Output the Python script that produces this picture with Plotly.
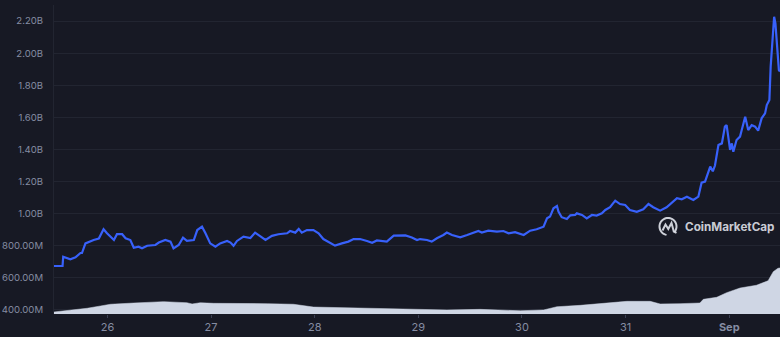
import numpy as np
import pandas as pd
import plotly.graph_objects as go

# ---- data (hours after 2023-08-25 00:00) ----
mcap_hours = [11.5, 13.6, 13.75, 14.3, 15.4, 16.6, 17.75, 18.1, 18.5, 18.9, 20.8, 22.0, 23.1, 23.9,
              25.5, 26.2, 27.4, 28.2, 29.3, 30.1, 31.2, 32.0, 33.2, 35.1, 35.9, 37.4, 38.6, 39.3,
              40.5, 41.5, 42.4, 44.0, 44.8, 45.9, 46.7, 47.8, 49.0, 50.1, 51.7, 52.5, 53.2, 54.0,
              55.5, 57.1, 58.2, 59.4, 60.6, 62.1, 63.6, 65.6, 66.3, 67.5, 68.3, 69.0, 70.2, 71.7,
              72.9, 74.0, 75.2, 76.7, 78.3, 79.8, 81.0, 82.5, 84.1, 85.3, 86.4, 88.7, 90.3, 91.8,
              93.0, 94.5, 95.7, 96.4, 98.0, 99.1, 100.3, 101.8, 102.6, 103.8, 105.7, 107.3, 108.8,
              109.9, 110.7, 112.2, 114.2, 115.7, 116.9, 118.4, 120.4, 121.9, 123.4, 125.0, 125.8,
              126.5, 127.3, 128.1, 128.45, 129.2, 130.4, 131.2, 132.3, 132.7, 133.9, 135.0, 136.2,
              137.3, 138.5, 139.3, 140.4, 141.6, 142.7, 143.9, 145.0, 146.6, 148.1, 149.3, 150.4,
              152.0, 153.5, 155.1, 155.9, 157.0, 158.2, 159.7, 160.85, 161.6, 162.4, 163.6, 164.2,
              164.7, 165.5, 166.3, 167.0, 167.4, 167.8, 168.2, 168.6, 168.95, 169.7, 170.5, 170.9,
              171.7, 172.4, 173.2, 174.0, 174.7, 175.5, 176.3, 176.7, 177.3, 177.6, 178.0, 178.4,
              178.7, 179.1, 179.5, 179.76]
mcap_millions = [674, 674, 732, 728, 716, 728, 755, 755, 784, 815, 836, 845, 903, 878,
                 836, 872, 872, 847, 836, 788, 794, 784, 800, 805, 820, 836, 826, 784,
                 805, 850, 830, 836, 898, 919, 878, 815, 794, 815, 830, 820, 800, 830,
                 857, 848, 882, 857, 836, 862, 872, 878, 892, 882, 905, 882, 898, 898,
                 878, 842, 826, 801, 815, 826, 842, 842, 830, 819, 833, 826, 863, 862,
                 865, 852, 836, 842, 836, 826, 847, 867, 882, 867, 853, 867, 882,
                 892, 882, 894, 888, 892, 878, 885, 867, 894, 903, 919, 971,
                 982, 1034, 1048, 1013, 978, 967, 990, 992, 1002, 992, 971, 992,
                 988, 1002, 1023, 1040, 1081, 1060, 1054, 1023, 1012, 1027, 1060, 1040,
                 1019, 1040, 1075, 1096, 1090, 1106, 1085, 1106, 1193, 1200, 1293, 1264,
                 1300, 1428, 1438, 1542, 1552, 1480, 1397, 1438, 1386, 1459, 1480, 1521,
                 1604, 1521, 1552, 1542, 1517, 1594, 1625, 1677, 1708, 1916, 2082, 2227,
                 2185, 2020, 1895, 1885]

vol_hours = [11.6, 14.7, 19.3, 22.4, 24.7, 30.1, 37.0, 42.4, 43.6, 45.5, 48.6, 61.0, 67.1, 71.7,
             80.2, 87.9, 94.9, 102.6, 110.3, 119.6, 125.0, 128.1, 133.5, 141.2, 144.3, 149.7,
             152.0, 156.6, 161.2, 162.0, 165.1, 167.4, 170.5, 174.3, 177.0, 178.2, 179.3, 179.76]
vol_millions = [13, 21, 37, 52, 63, 71, 80, 73, 65, 73, 69, 67, 63, 45,
                41, 37, 30, 26, 30, 21, 26, 47, 56, 73, 82, 82,
                65, 67, 71, 95, 108, 138, 168, 186, 215, 274, 296, 298]

y_tick_values = [400e6, 600e6, 800e6, 1.0e9, 1.2e9, 1.4e9, 1.6e9, 1.8e9, 2.0e9, 2.2e9]
y_tick_labels = ["400.00M", "600.00M", "800.00M", "1.00B", "1.20B", "1.40B", "1.60B",
                 "1.80B", "2.00B", "2.20B"]
x_tick_values = ["2023-08-26", "2023-08-27", "2023-08-28", "2023-08-29", "2023-08-30",
                 "2023-08-31", "2023-09-01"]
x_tick_labels = ["26", "27", "28", "29", "30", "31", "<b>Sep</b>"]

base = pd.Timestamp("2023-08-25")
mcap_t = base + pd.to_timedelta(mcap_hours, unit="h")
vol_t = base + pd.to_timedelta(vol_hours, unit="h")
mcap_v = np.array(mcap_millions) * 1e6
vol_v = np.array(vol_millions) * 1e6

BG = "#171924"
GRID = "#222531"
TXT = "#858ca2"

fig = go.Figure()
fig.add_trace(go.Scatter(x=vol_t, y=vol_v, mode="lines", fill="tozeroy",
                         line=dict(color="#cfd6e4", width=0.5), fillcolor="#cfd6e4",
                         yaxis="y2", hoverinfo="skip", showlegend=False))
fig.add_trace(go.Scatter(x=mcap_t, y=mcap_v, mode="lines",
                         line=dict(color="#3861fb", width=2.2), showlegend=False))

W, H = 780, 337
ml, mr, mt, mb = 54, 0, 5, 23
fig.update_layout(
    width=W, height=H, autosize=False,
    margin=dict(l=ml, r=mr, t=mt, b=mb, pad=0),
    paper_bgcolor=BG, plot_bgcolor=BG,
    font=dict(family="Inter, Roboto, sans-serif", color=TXT, size=10),
    xaxis=dict(type="date", range=[base + pd.Timedelta(hours=11.62), base + pd.Timedelta(hours=179.76)],
               tickvals=x_tick_values, ticktext=x_tick_labels, ticks="outside", ticklen=3,
               tickcolor="#3a3f52", showgrid=False, showline=False, zeroline=False,
               tickfont=dict(size=11, color=TXT)),
    yaxis=dict(range=[375e6, 2300e6], tickvals=y_tick_values, ticktext=y_tick_labels,
               showgrid=True, gridcolor=GRID, gridwidth=1, zeroline=False,
               showline=True, linecolor=GRID, ticks="", ticklabelstandoff=8,
               tickfont=dict(size=9.6, color=TXT)),
    yaxis2=dict(range=[0, 2000e6], overlaying="y", visible=False, showgrid=False),
)

# CoinMarketCap watermark (logo drawn in pixel space, converted to paper coords)
pw, ph = W - ml - mr, H - mt - mb
def px(x, y):
    return ((x - ml) / pw, (H - mb - y) / ph)

cx, cy, r = 668, 226.5, 8.5
ang = np.linspace(np.deg2rad(-40), np.deg2rad(-40 + 300), 40)
pts = [px(cx + r * np.cos(a), cy - r * np.sin(a)) for a in ang]
path = "M " + " L ".join(f"{a:.5f},{b:.5f}" for a, b in pts)
fig.add_shape(type="path", xref="paper", yref="paper", path=path,
              line=dict(color="rgba(225,228,236,0.9)", width=2))
wave = [(662.5, 230.5), (665.5, 224.5), (668.3, 229.0), (671.5, 223.0), (673.8, 231.5), (676.5, 233.0)]
wp = [px(a, b) for a, b in wave]
fig.add_shape(type="path", xref="paper", yref="paper",
              path="M " + " L ".join(f"{a:.5f},{b:.5f}" for a, b in wp),
              line=dict(color="rgba(225,228,236,0.9)", width=2))
tx, ty = px(683, 226.5)
fig.add_annotation(x=tx, y=ty, xref="paper", yref="paper", text="<b>CoinMarketCap</b>",
                   showarrow=False, xanchor="left", yanchor="middle",
                   font=dict(family="Inter, sans-serif", size=11.7, color="rgba(225,228,236,0.9)"))

fig.write_html("out.html")
